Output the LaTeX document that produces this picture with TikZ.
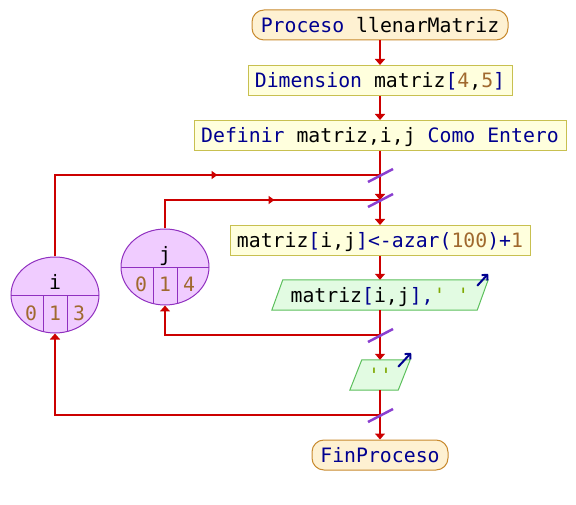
\documentclass[tikz,border=0pt]{standalone}
\usepackage{fontspec}
\newfontfamily\psmono{DejaVu Sans Mono}
\usetikzlibrary{shapes.geometric,arrows.meta,decorations.markings}
\definecolor{kwc}{HTML}{000090}
\definecolor{numc}{HTML}{A0692E}
\definecolor{strc}{HTML}{7FA800}
\definecolor{redc}{HTML}{CC0000}
\definecolor{termfill}{HTML}{FEF1D2}
\definecolor{termdraw}{HTML}{C88A2E}
\definecolor{procfill}{HTML}{FFFFDD}
\definecolor{procdraw}{HTML}{C8C050}
\definecolor{iofill}{HTML}{E2FBE2}
\definecolor{iodraw}{HTML}{5CC05C}
\definecolor{ellfill}{HTML}{F0CCFF}
\definecolor{elldraw}{HTML}{9030C0}
\definecolor{slashc}{HTML}{8A3FD0}
\newcommand\kw[1]{\textcolor{kwc}{#1}}
\newcommand\nm[1]{\textcolor{numc}{#1}}
\newcommand\strg[1]{\textcolor{strc}{#1}}
\pgfdeclarelayer{bg}
\pgfsetlayers{bg,main}
\tikzset{
  txt/.style={font=\psmono\fontsize{19.8pt}{24pt}\selectfont, inner sep=0pt, text height=14.6pt, text depth=0pt},
  term/.style={txt, draw=termdraw, fill=termfill, line width=1pt, rounded corners=12pt, minimum height=30pt},
  proc/.style={txt, draw=procdraw, fill=procfill, line width=1pt, minimum height=30pt},
  io/.style={txt, minimum height=30pt},
  iobord/.style={draw=iodraw, fill=iofill, line width=1pt},
  loopell/.style={ellipse, draw=elldraw, fill=ellfill, line width=1pt, minimum width=88pt, minimum height=76pt, inner sep=0pt},
  lbl/.style={font=\psmono\fontsize{19.8pt}{24pt}\selectfont, inner sep=0pt, anchor=base},
  conn/.style={draw=redc, line width=2.2pt},
  tipd/.style={-{Triangle[length=6pt,width=10pt]}},
  slashmark/.style={draw=slashc, line width=2.5pt},
  outarr/.style={draw=kwc, line width=2pt, -{Straight Barb[length=4pt,width=8pt]}},
  midtip/.style={postaction={decorate, decoration={markings, mark=at position #1 with {\arrow[redc]{Triangle[length=6pt,width=8pt]}}}}}
}
\begin{document}
\begin{tikzpicture}[x=1pt,y=-1pt]
\useasboundingbox (0,0) rectangle (576,505);

% main column
\node[term, minimum width=256pt] (start) at (380,25) {\kw{Proceso} llenarMatriz};
\node[proc, minimum width=264pt] (dim) at (380,80.5) {\kw{Dimension} matriz\kw{[}\nm{4},\nm{5}\kw{]}};
\node[proc, minimum width=372pt] (def) at (380,135.5) {\kw{Definir} matriz,i,j \kw{Como Entero}};
\coordinate (ji) at (380,175);
\coordinate (jj) at (380,200);
\node[proc, minimum width=300pt] (asg) at (380,240.5) {matriz\kw{[}i,j\kw{]<-azar(}\nm{100}\kw{)+}\nm{1}};
\node[io, minimum width=216pt] (out1) at (380,295) {matriz\kw{[}i,j\kw{],}\strg{' '}};
\coordinate (rj) at (380,335);
\node[io, minimum width=60pt] (out2) at (380,375) {\strg{''}};
\coordinate (ri) at (380,415);
\node[term, minimum width=136pt] (end) at (380,455) {\kw{FinProceso}};

% parallelograms
\begin{pgfonlayer}{bg}
\path[iobord] ([xshift=11pt]out1.north west) -- (out1.north east) -- ([xshift=-11pt]out1.south east) -- (out1.south west) -- cycle;
\path[iobord] ([xshift=12pt]out2.north west) -- (out2.north east) -- ([xshift=-12pt]out2.south east) -- (out2.south west) -- cycle;
\end{pgfonlayer}
\draw[outarr] ([shift={(-11,6)}]out1.north east) -- ([shift={(0,-6)}]out1.north east);
\draw[outarr] ([shift={(-12,7)}]out2.north east) -- ([shift={(1,-7)}]out2.north east);

% loop ellipses
\node[loopell] (iell) at (55,295) {};
\node[loopell] (jell) at (165,267) {};
\begin{scope}
\clip (iell.center) ellipse [x radius=44pt, y radius=38pt];
\draw[elldraw, line width=1pt] (0,296) -- (110,296);
\draw[elldraw, line width=1pt] (43,296) -- (43,340);
\draw[elldraw, line width=1pt] (67,296) -- (67,340);
\end{scope}
\begin{scope}
\clip (jell.center) ellipse [x radius=44pt, y radius=38pt];
\draw[elldraw, line width=1pt] (110,268) -- (220,268);
\draw[elldraw, line width=1pt] (153,268) -- (153,310);
\draw[elldraw, line width=1pt] (177,268) -- (177,310);
\end{scope}
\node[lbl] (ivar) at (55,290) {i};
\node[lbl, text=numc] (iini) at (31,320) {0};
\node[lbl, text=numc] (istep) at (55,320) {1};
\node[lbl, text=numc] (iend) at (79,320) {3};
\node[lbl] (jvar) at (165,262) {j};
\node[lbl, text=numc] (jini) at (141,292) {0};
\node[lbl, text=numc] (jstep) at (165,292) {1};
\node[lbl, text=numc] (jend) at (189,292) {4};

% connectors
\draw[conn, tipd] (start.south) -- (dim.north);
\draw[conn, tipd] (dim.south) -- (def.north);
\draw[conn] (def.south) -- (ji);
\draw[conn, tipd] (ji) -- (jj);
\draw[conn, tipd] (jj) -- (asg.north);
\draw[conn, tipd] (asg.south) -- (out1.north);
\draw[conn] (out1.south) -- (rj);
\draw[conn, tipd] (rj) -- (out2.north);
\draw[conn] (out2.south) -- (ri);
\draw[conn, tipd] (ri) -- (end.north);

\draw[conn, midtip=244pt] (iell.north) |- (ji);
\draw[conn, midtip=138pt] (jell.north) |- (jj);
\draw[conn, tipd] (rj) -| (jell.south);
\draw[conn, tipd] (ri) -| (iell.south);

% junction marks
\foreach \c in {ji,jj,rj,ri}
  \draw[slashmark] ([shift={(-12,7)}]\c) -- ([shift={(13,-6)}]\c);
\end{tikzpicture}
\end{document}
